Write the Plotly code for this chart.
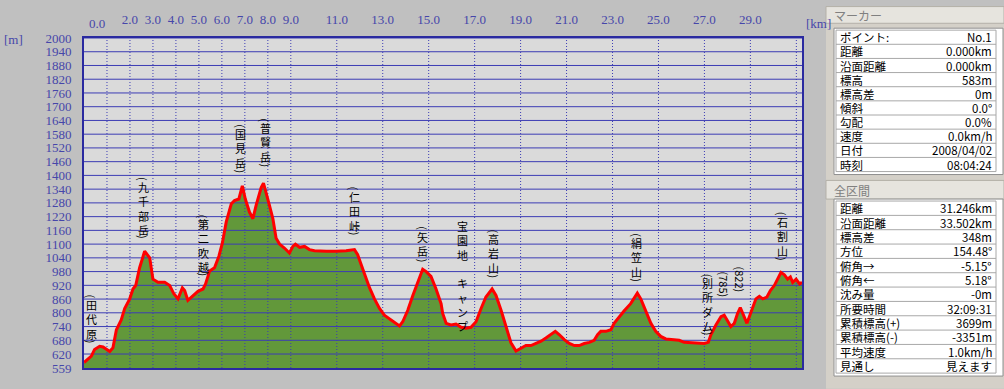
import plotly.graph_objects as go

# ---------------- data ----------------
dist_km = [0.00, 0.15, 0.32, 0.46, 0.68, 0.83, 0.97, 1.12, 1.26, 1.41, 1.62, 1.77, 1.99, 2.13, 2.25,
           2.42, 2.64, 2.86, 3.00, 3.22, 3.51, 3.73, 3.91, 4.09, 4.28, 4.38, 4.52, 4.74, 4.96, 5.18,
           5.29, 5.47, 5.68, 5.87, 6.02, 6.19, 6.41, 6.55, 6.74, 6.89, 7.02, 7.20, 7.35, 7.49, 7.71,
           7.81, 7.93, 8.07, 8.22, 8.36, 8.51, 8.72, 8.94, 9.09, 9.20, 9.38, 9.60, 9.81, 10.03, 10.25,
           10.54, 10.97, 11.41, 11.77, 11.91, 12.06, 12.20, 12.42, 12.64, 12.86, 13.07, 13.36, 13.58,
           13.73, 13.87, 14.09, 14.31, 14.52, 14.74, 14.89, 15.10, 15.32, 15.54, 15.61, 15.76, 15.97,
           16.19, 16.41, 16.62, 16.84, 17.06, 17.28, 17.49, 17.76, 17.93, 18.15, 18.36, 18.58, 18.80,
           19.02, 19.23, 19.45, 19.67, 19.89, 20.10, 20.32, 20.51, 20.69, 20.90, 21.12, 21.34, 21.55,
           21.77, 21.99, 22.20, 22.35, 22.49, 22.71, 22.93, 23.07, 23.29, 23.50, 23.79, 24.01, 24.08,
           24.23, 24.45, 24.67, 24.88, 25.10, 25.32, 25.61, 25.90, 26.12, 26.41, 26.70, 26.99, 27.17,
           27.28, 27.50, 27.72, 27.86, 28.01, 28.15, 28.30, 28.44, 28.56, 28.71, 28.85, 29.03, 29.24,
           29.39, 29.54, 29.72, 29.87, 30.04, 30.19, 30.33, 30.48, 30.62, 30.74, 30.84, 30.99, 31.14,
           31.246]
elev_m = [583, 595, 611, 640, 654, 651, 640, 631, 647, 726, 769, 819, 861, 904, 919,
          997, 1069, 1040, 947, 933, 933, 919, 883, 861, 909, 897, 854, 876, 894, 904,
          926, 983, 997, 1047, 1104, 1197, 1276, 1290, 1297, 1354, 1297, 1240, 1211, 1269, 1347,
          1366, 1326, 1269, 1211, 1126, 1100, 1083, 1061, 1090, 1100, 1086, 1090, 1076, 1071, 1069,
          1069, 1069, 1071, 1076, 1054, 1011, 969, 911, 861, 819, 790, 769, 754,
          743, 761, 811, 876, 933, 990, 980, 959, 904, 840, 797, 754, 747,
          751, 737, 733, 737, 761, 819, 869, 904, 876, 811, 740, 669, 633,
          647, 657, 657, 666, 676, 690, 704, 719, 704, 683, 666, 657, 657,
          666, 671, 680, 704, 719, 719, 726, 754, 783, 808, 840, 876, 886,
          861, 811, 754, 719, 697, 686, 683, 680, 671, 669, 669, 666, 671,
          704, 747, 783, 790, 761, 740, 754, 797, 823, 790, 754, 804, 861,
          872, 861, 869, 897, 919, 947, 976, 966, 947, 957, 933, 947, 926,
          933]

# axis ticks / labels
y_axis_min, y_axis_max = 559, 2000
y_grid_m = list(range(620, 2001, 60))
y_tick_m = [559] + y_grid_m
x_grid_km = [1, 2, 3, 4, 5, 6, 7, 8, 9, 11, 13, 15, 17, 19, 21, 23, 25, 27, 29, 31]
x_label_km = [2, 3, 4, 5, 6, 7, 8, 9, 11, 13, 15, 17, 19, 21, 23, 25, 27, 29]

# place-name labels (vertical text)
place_names = ["(田代原)", "(九千部岳)", "(第二吹越)", "(国見岳)", "(普賢岳)", "(仁田峠)", "(矢岳)",
               "宝園地　キャンプ", "(高岩山)", "(絹笠山)", "(別所ダム)", "(石割山)"]
place_km = [0.32, 2.57, 5.22, 6.83, 7.88, 11.77, 14.75, 16.45, 17.83, 24.06, 27.14, 30.41]
place_top_m = [876, 1390, 1227, 1621, 1647, 1347, 1176, 1184, 1163, 1146, 970, 1240]
spot_names = ["(785)", "(822)"]
spot_km = [27.86, 28.56]
spot_mid_m = [923, 944]

# info panel
marker_title = "マーカー"
marker_labels = ["ポイント:", "距離", "沿面距離", "標高", "標高差", "傾斜", "勾配", "速度", "日付", "時刻"]
marker_values = ["No.1", "0.000km", "0.000km", "583m", "0m", "0.0°", "0.0%", "0.0km/h", "2008/04/02", "08:04:24"]
total_title = "全区間"
total_labels = ["距離", "沿面距離", "標高差", "方位", "俯角→", "俯角←", "沈み量", "所要時間",
                "累積標高(+)", "累積標高(-)", "平均速度", "見通し"]
total_values = ["31.246km", "33.502km", "348m", "154.48°", "-5.15°", "5.18°", "-0m", "32:09:31",
                "3699m", "-3351m", "1.0km/h", "見えます"]

# ---------------- styling / layout ----------------
W, H = 1004, 389
ML, MR, MT, MB = 84, 202, 32, 21
PW, PH = W - ML - MR, H - MT - MB
BLUE = "#3c3cb4"
TICK_BLUE = "#4646aa"
CJK = "Noto Sans CJK JP"
NUMF = "Liberation Serif"
LBL_SIZE = 10           # vertical label glyph size (line pitch = 1.3 * size)
PAREN_H = 5.0


def px_x(px):
    return (px - ML) / PW


def px_y(py):
    return (H - MB - py) / PH


total_km = dist_km[-1]
m_per_px = (y_axis_max - y_axis_min) / PH

fig = go.Figure()

# green terrain fill
fig.add_trace(go.Scatter(x=dist_km, y=elev_m, mode="lines", fill="tozeroy",
                         fillcolor="#62983a", line=dict(color="#efe6c0", width=1.5),
                         hoverinfo="skip", showlegend=False))

# grid lines drawn above the fill
hx, hy = [], []
for v in y_grid_m:
    hx += [0, total_km, None]
    hy += [v, v, None]
fig.add_trace(go.Scatter(x=hx, y=hy, mode="lines", line=dict(color=BLUE, width=1),
                         hoverinfo="skip", showlegend=False))
vx, vy = [], []
for k in x_grid_km:
    vx += [k, k, None]
    vy += [y_axis_min, y_axis_max, None]
fig.add_trace(go.Scatter(x=vx, y=vy, mode="lines",
                         line=dict(color=BLUE, width=1, dash="1px,2px"),
                         hoverinfo="skip", showlegend=False))

# red track line
fig.add_trace(go.Scatter(x=dist_km, y=elev_m, mode="lines",
                         line=dict(color="#ff0000", width=3),
                         hoverinfo="skip", showlegend=False))

annotations = []
shapes = []

# vertical place labels: one stacked text block per label, rotated brackets at both ends
pitch = 1.3 * LBL_SIZE
for name, km, top in zip(place_names, place_km, place_top_m):
    has_paren = name.startswith("(")
    inner = name.strip("()")
    lines = [c if c != "　" else "　" for c in inner]
    off = PAREN_H if has_paren else 0.0
    block_h = pitch * len(lines)
    if has_paren:
        annotations.append(dict(x=km, y=top - (PAREN_H / 2 - 1) * m_per_px, xref="x", yref="y",
                                text="(", textangle=90, showarrow=False,
                                xanchor="center", yanchor="middle",
                                font=dict(family=CJK, size=11, color="black")))
        annotations.append(dict(x=km, y=top - (off + block_h + PAREN_H / 2 + 1) * m_per_px,
                                xref="x", yref="y", text=")", textangle=90, showarrow=False,
                                xanchor="center", yanchor="middle",
                                font=dict(family=CJK, size=11, color="black")))
    annotations.append(dict(x=km, y=top - (off + block_h / 2) * m_per_px, xref="x", yref="y",
                            text="<br>".join(lines), showarrow=False, align="center",
                            xanchor="center", yanchor="middle",
                            font=dict(family=CJK, size=LBL_SIZE + 1, color="black")))
for name, km, mid in zip(spot_names, spot_km, spot_mid_m):
    annotations.append(dict(x=km, y=mid, xref="x", yref="y", text=name, textangle=90,
                            showarrow=False, xanchor="center", yanchor="middle",
                            font=dict(family=CJK, size=11, color="black")))

# axis unit labels and the shifted 0.0 label
annotations.append(dict(x=px_x(97), y=px_y(17), xref="paper", yref="paper", text="0.0",
                        showarrow=False, xanchor="center", yanchor="middle",
                        font=dict(family=NUMF, size=13, color=TICK_BLUE)))
annotations.append(dict(x=px_x(804), y=px_y(17), xref="paper", yref="paper", text="[km]",
                        showarrow=False, xanchor="left", yanchor="middle",
                        font=dict(family=NUMF, size=13, color=TICK_BLUE)))
annotations.append(dict(x=px_x(2), y=px_y(34), xref="paper", yref="paper", text="[m]",
                        showarrow=False, xanchor="left", yanchor="middle",
                        font=dict(family=NUMF, size=13, color=TICK_BLUE)))


# ---------------- info panel ----------------
def rect(x0, y0, x1, y1, fill, line=None, lw=1):
    shapes.append(dict(type="rect", xref="paper", yref="paper",
                       x0=px_x(x0), x1=px_x(x1), y0=px_y(y1), y1=px_y(y0),
                       fillcolor=fill, line=dict(color=line or fill, width=lw if line else 0),
                       layer="above"))


def hline(x0, x1, y, color):
    shapes.append(dict(type="line", xref="paper", yref="paper",
                       x0=px_x(x0), x1=px_x(x1), y0=px_y(y), y1=px_y(y),
                       line=dict(color=color, width=1), layer="above"))


def vline(x, y0, y1, color):
    shapes.append(dict(type="line", xref="paper", yref="paper",
                       x0=px_x(x), x1=px_x(x), y0=px_y(y0), y1=px_y(y1),
                       line=dict(color=color, width=1), layer="above"))


def text(px, py, s, anchor, color="black", size=12):
    annotations.append(dict(x=px_x(px), y=px_y(py), xref="paper", yref="paper", text=s,
                            showarrow=False, xanchor=anchor, yanchor="middle",
                            font=dict(family=CJK, size=size, color=color)))


rect(826, 0, 1004, 389, "#d4d0c8")


def table(title, labels, values, bar_top, bar_h, tbl_top, row_h):
    rect(826, bar_top, 1004, bar_top + bar_h, "#e6e4de", "#b4b0a8")
    text(832, bar_top + bar_h / 2 + 0.5, title, "left", "#808080")
    n = len(labels)
    bottom = tbl_top + n * row_h
    rect(834, tbl_top - 2, 1003, bottom + 3, "#ffffff", "#909090")
    for i in range(n + 1):
        hline(836, 996, tbl_top + i * row_h, "#a8a8a8")
    vline(836, tbl_top, bottom, "#a8a8a8")
    vline(996, tbl_top, bottom, "#a8a8a8")
    for i, (lab, val) in enumerate(zip(labels, values)):
        cy = tbl_top + (i + 0.5) * row_h
        text(838, cy, lab, "left", size=11.5)
        text(994, cy, val, "right", size=11.5)


table(marker_title, marker_labels, marker_values, 0, 17, 24, 14.4)
table(total_title, total_labels, total_values, 177, 19, 198, 14.6)

fig.update_layout(
    width=W, height=H,
    margin=dict(l=ML, r=MR, t=MT, b=MB, pad=0),
    paper_bgcolor="#c0c0c0", plot_bgcolor="#dadada",
    font=dict(family=CJK, size=12, color="black"),
    showlegend=False,
    annotations=annotations, shapes=shapes,
    xaxis=dict(range=[0, total_km], side="top", showgrid=False, zeroline=False,
               tickvals=x_label_km, ticktext=["%.1f" % v for v in x_label_km],
               ticks="", ticklabelstandoff=7,
               tickfont=dict(family=NUMF, size=13, color=TICK_BLUE),
               showline=True, mirror=True, linecolor="#2a2aa0", linewidth=2, fixedrange=True),
    yaxis=dict(range=[y_axis_min, y_axis_max], showgrid=False, zeroline=False,
               tickvals=y_tick_m, ticktext=[str(v) for v in y_tick_m],
               ticks="", ticklabelstandoff=8,
               tickfont=dict(family=NUMF, size=13, color=TICK_BLUE),
               showline=True, mirror=True, linecolor="#2a2aa0", linewidth=2, fixedrange=True),
)

fig.write_html("out.html", config={"displayModeBar": False},
               post_script="document.body.style.margin='0';document.body.style.overflow='hidden';")
